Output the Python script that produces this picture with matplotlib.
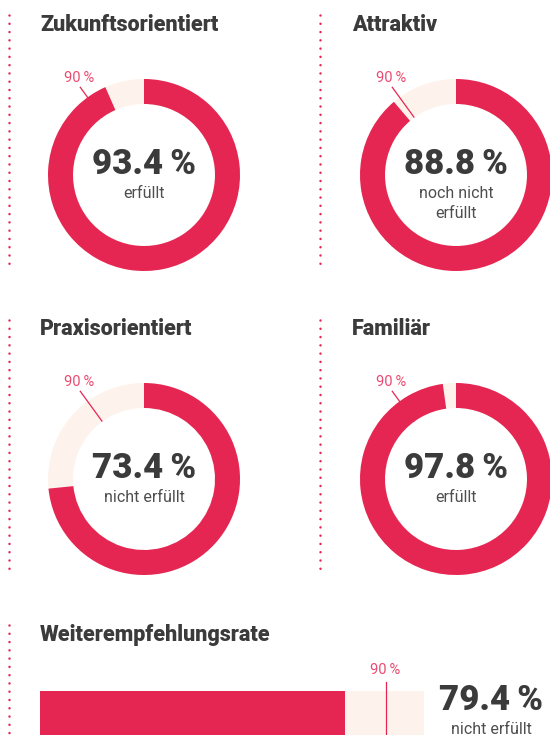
import numpy as np
import matplotlib.pyplot as plt

plt.rcParams['font.family'] = ['Roboto', 'DejaVu Sans']

titles = ["Zukunftsorientiert", "Attraktiv", "Praxisorientiert", "Familiär"]
values = [93.4, 88.8, 73.4, 97.8]
status = ["erfüllt", "noch nicht\nerfüllt", "nicht erfüllt", "erfüllt"]
target = 90

bar_title = "Weiterempfehlungsrate"
bar_value = 79.4
bar_status = "nicht erfüllt"

RED = '#E62652'
LIGHT = '#FDF3EC'
PINK = '#EA4A70'
DARK = '#3B3B3B'
GREY = '#4E4E4E'
THIN = '\u2009'

W, H = 550, 735
fig = plt.figure(figsize=(5.5, 7.35), dpi=100)
bg = fig.add_axes([0, 0, 1, 1])
bg.set_xlim(0, W)
bg.set_ylim(H, 0)
bg.axis('off')


def px_axes(x0, y0, w, h):
    return fig.add_axes([x0 / W, 1 - (y0 + h) / H, w / W, h / H])


# dotted separators
for x, y0, y1 in [(9, 15, 270), (320, 15, 270), (9, 320, 575), (320, 320, 575), (9, 625, 745)]:
    bg.plot([x, x], [y0, y1], color=RED, lw=1.8, ls=(0, (0.01, 3.3)),
            dash_capstyle='round')

centers = [(144, 175), (456, 175), (144, 479), (456, 479)]
title_pos = [(40, 31), (352, 31), (40, 335), (352, 335)]
R, ring, r_tick = 96, 25, 109

ang = np.deg2rad(90 - target / 100 * 360)
for (cx, cy), (tx, ty), t, v, s in zip(centers, title_pos, titles, values, status):
    bg.text(tx, ty, t, fontsize=15.5, fontweight='black', color=DARK, va='baseline')
    ax = px_axes(cx - 120, cy - 120, 240, 240)
    ax.pie([1], radius=R, colors=[LIGHT], startangle=90,
           wedgeprops=dict(width=ring, linewidth=0))
    ax.plot([(R - ring) * np.cos(ang), r_tick * np.cos(ang)],
            [(R - ring) * np.sin(ang), r_tick * np.sin(ang)],
            color=RED, lw=0.9, zorder=2, solid_capstyle='butt')
    wedges, _ = ax.pie([v, 100 - v], radius=R, colors=[RED, 'none'], startangle=90,
                       counterclock=False, wedgeprops=dict(width=ring, linewidth=0))
    for wdg in wedges:
        wdg.set_zorder(3)
    ax.text(r_tick * np.cos(ang) - 1, r_tick * np.sin(ang) + 2, f"{target}{THIN}%",
            ha='center', va='bottom', fontsize=10.5, color=PINK)
    ax.text(0, 10.5, f"{v}{THIN}%", ha='center', va='center', fontsize=25,
            fontweight='black', color=DARK)
    for i, line in enumerate(s.split('\n')):
        ax.text(0, -18 - 20 * i, line, ha='center', va='center', fontsize=11.5, color=GREY)
    ax.set_xlim(-120, 120)
    ax.set_ylim(-120, 120)
    ax.set_aspect('equal')
    ax.axis('off')

# recommendation bar
bg.text(40, 641, bar_title, fontsize=15.5, fontweight='black', color=DARK, va='baseline')
bx = px_axes(40, 691, 384, 44)
bx.barh(0.5, 100, height=1, color=LIGHT, zorder=1)
bx.axvline(target, ymin=0, ymax=1 + 9 / 44, clip_on=False, color=RED, lw=0.9, zorder=2)
bx.barh(0.5, bar_value, height=1, color=RED, zorder=3)
bx.text(target, 1 + 21 / 44, f"{target}{THIN}%", ha='center', va='center',
        fontsize=10.5, color=PINK)
bx.set_xlim(0, 100)
bx.set_ylim(0, 1)
bx.axis('off')

bg.text(491, 701, f"{bar_value}{THIN}%", ha='center', va='center', fontsize=25,
        fontweight='black', color=DARK)
bg.text(491, 729, bar_status, ha='center', va='center', fontsize=11.5, color=GREY)

fig.savefig('out.png', dpi=100)
